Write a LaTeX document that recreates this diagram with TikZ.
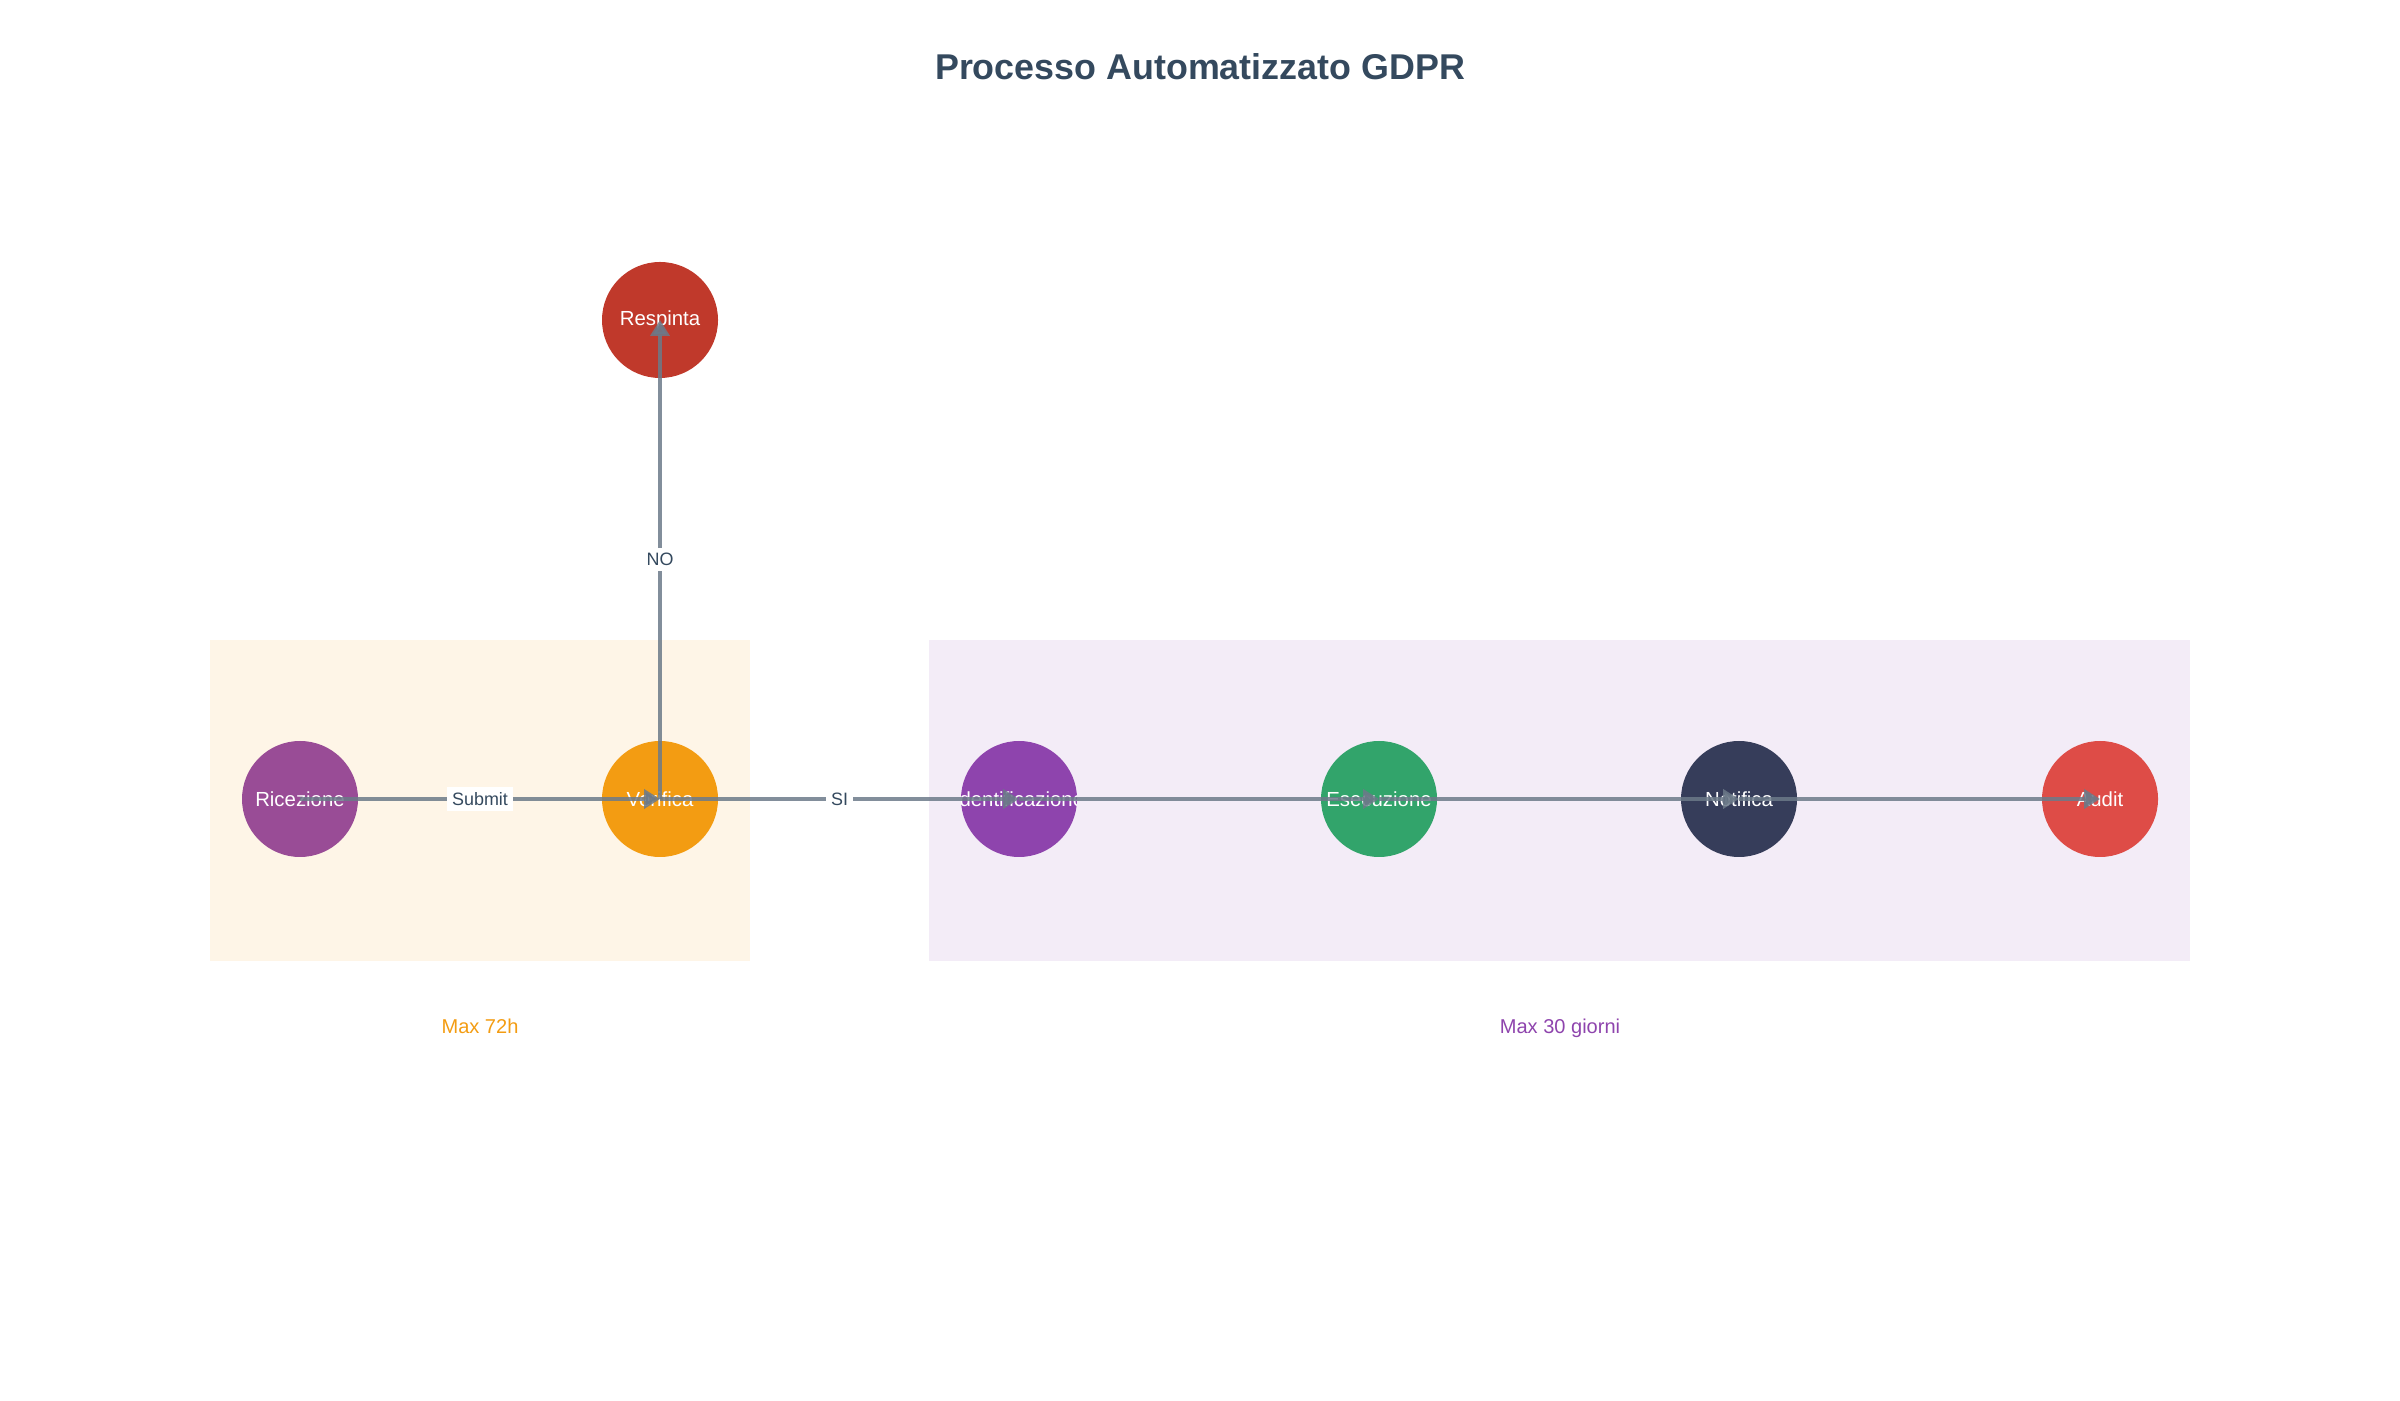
\documentclass[tikz,border=0pt]{standalone}
\usepackage{fontspec}
\setmainfont{Liberation Sans}
\usetikzlibrary{arrows.meta}
\definecolor{titleblue}{HTML}{34495E}
\definecolor{edgegray}{HTML}{6C7A89}
\definecolor{procorange}{HTML}{F39C12}
\definecolor{procpurple}{HTML}{8E44AD}
\definecolor{ricpurple}{HTML}{994C96}
\definecolor{respred}{HTML}{C0392B}
\definecolor{esecgreen}{HTML}{32A46B}
\definecolor{notifnavy}{HTML}{363D5A}
\definecolor{auditred}{HTML}{DE4C47}

\begin{document}
\begin{tikzpicture}[
    stepnode/.style={circle, minimum size=1.16cm, inner sep=0pt},
    steplabel/.style={path picture={\node[text=white, font=\fontsize{5.8}{6}\selectfont]
        at (path picture bounding box.center) {#1};}},
    flow/.style={draw=edgegray, line width=1.1pt, draw opacity=0.85, fill opacity=0.9,
        -{Triangle[length=1.6mm,width=1.9mm]}},
    flowlabel/.style={fill=white, opacity=1, text=titleblue, inner sep=1.5pt,
        font=\fontsize{5.1}{6}\selectfont},
    phase/.style={font=\fontsize{5.7}{6}\selectfont, text height=1.6ex, text depth=0.3ex}
]
    \useasboundingbox (0,0) rectangle (24,14); % Page
    \node[text=titleblue, font=\fontsize{10.2}{12}\bfseries] (title) at (12,13.33) {Processo Automatizzato GDPR};
    \fill[procorange, fill opacity=0.1] (2.1,4.39) rectangle (7.5,7.6); % Phase 1
    \fill[procpurple, fill opacity=0.1] (9.29,4.39) rectangle (21.9,7.6); % Phase 2
    \node[phase, text=procorange] (lim1) at (4.8,3.79) {Max 72h};
    \node[phase, text=procpurple] (lim2) at (15.6,3.79) {Max 30 giorni};
    \node[stepnode, fill=ricpurple, steplabel=Ricezione] (ric) at (3,6.01) {};
    \node[stepnode, fill=procorange, steplabel=Verifica] (ver) at (6.6,6.01) {};
    \node[stepnode, fill=respred, steplabel=Respinta] (resp) at (6.6,10.8) {};
    \node[stepnode, fill=procpurple, steplabel=Identificazione] (ident) at (10.19,6.01) {};
    \node[stepnode, fill=esecgreen, steplabel=Esecuzione] (esec) at (13.79,6.01) {};
    \node[stepnode, fill=notifnavy, steplabel=Notifica] (notif) at (17.39,6.01) {};
    \node[stepnode, fill=auditred, steplabel=Audit] (audit) at (21,6.01) {};
    \draw[flow] (ric.center) -- node[flowlabel] {Submit} (ver.center);
    \draw[flow] (ver.center) -- node[flowlabel] {NO} (resp.center);
    \draw[flow] (ver.center) -- node[flowlabel] {SI} (ident.center);
    \draw[flow] (ident.center) -- (esec.center);
    \draw[flow] (esec.center) -- (notif.center);
    \draw[flow] (notif.center) -- (audit.center);
\end{tikzpicture}
\end{document}
